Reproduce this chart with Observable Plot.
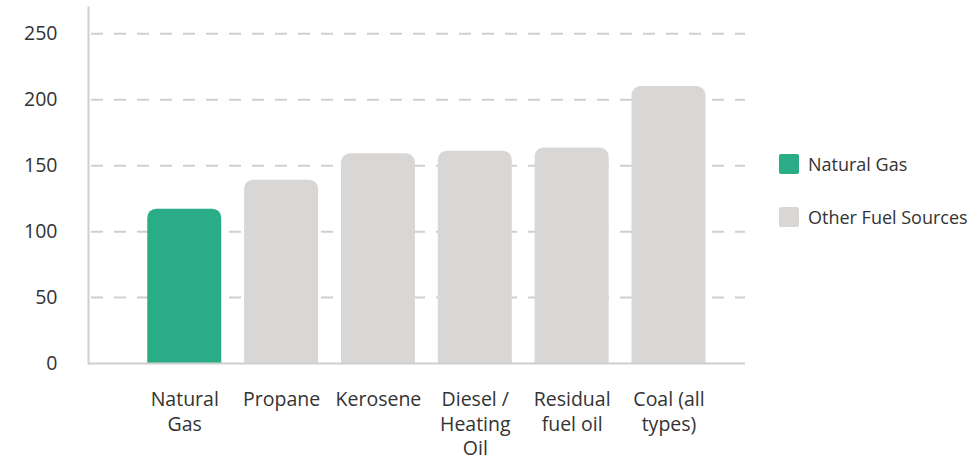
<!DOCTYPE html>
<html>
<head>
<meta charset="utf-8">
<script src="https://cdn.jsdelivr.net/npm/d3@7"></script>
<script src="https://cdn.jsdelivr.net/npm/@observablehq/plot@0.6"></script>
<style>
  html, body { margin: 0; padding: 0; background: #fff; }
  #wrap { position: relative; width: 976px; height: 459px; font-family: "Open Sans", sans-serif; }
  #legend { position: absolute; left: 779px; top: 154px; color: #333; font-size: 18px; }
  .item { display: flex; align-items: center; height: 20px; margin-bottom: 33px; }
  .sw { width: 20px; height: 20px; border-radius: 2px; margin-right: 9px; }
</style>
</head>
<body>
<div id="wrap"><div id="legend"></div></div>
<script>
// Pounds of CO2 per million Btu by fuel
const fuels = ["Natural Gas", "Propane", "Kerosene", "Diesel / Heating Oil", "Residual fuel oil", "Coal (all types)"];
const emissions = [117, 139, 159, 161, 163.5, 210];
const tickLabels = ["Natural\nGas", "Propane", "Kerosene", "Diesel /\nHeating\nOil", "Residual\nfuel oil", "Coal (all\ntypes)"];
const groups = ["Natural Gas", "Other Fuel Sources", "Other Fuel Sources", "Other Fuel Sources", "Other Fuel Sources", "Other Fuel Sources"];
const yTicks = [0, 50, 100, 150, 200, 250];
const groupNames = ["Natural Gas", "Other Fuel Sources"];
const groupColors = ["#2aac86", "#d8d7d5"];

const data = fuels.map((f, i) => ({fuel: f, value: emissions[i], group: groups[i]}));
const labelOf = new Map(fuels.map((f, i) => [f, tickLabels[i]]));

const chart = Plot.plot({
  width: 976,
  height: 459,
  marginTop: 7,
  marginBottom: 96,
  marginLeft: 88,
  marginRight: 231,
  style: {fontFamily: "'Open Sans', sans-serif", fontSize: "19px", color: "#333", background: "#fff"},
  x: {domain: fuels, paddingInner: 0.236, paddingOuter: 0.51, align: 0.6, round: false},
  y: {domain: [0, 270]},
  color: {domain: groupNames, range: groupColors},
  marks: [
    Plot.ruleY(yTicks.filter(d => d > 0), {stroke: "#cfcfcf", strokeWidth: 2, strokeDasharray: "12,11", strokeDashoffset: -3}),
    Plot.barY(data, {x: "fuel", y: "value", fill: "group", rx: 9, insetBottom: -12, clip: true}),
    Plot.ruleY([0], {stroke: "#cfcfcf", strokeWidth: 2}),
    Plot.frame({anchor: "left", stroke: "#cfcfcf", strokeWidth: 2}),
    Plot.axisY({ticks: yTicks, tickSize: 0, tickPadding: 31, label: null, fill: "#333", fontSize: 19.5}),
    Plot.axisX({tickSize: 0, tickPadding: 25, label: null, tickFormat: d => labelOf.get(d), lineHeight: 1.26, fill: "#333", fontSize: 19.5})
  ]
});

const wrap = document.getElementById("wrap");
wrap.insertBefore(chart, wrap.firstChild);

const legend = document.getElementById("legend");
groupNames.forEach((g, i) => {
  const item = document.createElement("div");
  item.className = "item";
  const sw = document.createElement("div");
  sw.className = "sw";
  sw.style.background = groupColors[i];
  const t = document.createElement("span");
  t.textContent = g;
  item.appendChild(sw);
  item.appendChild(t);
  legend.appendChild(item);
});
</script>
</body>
</html>
